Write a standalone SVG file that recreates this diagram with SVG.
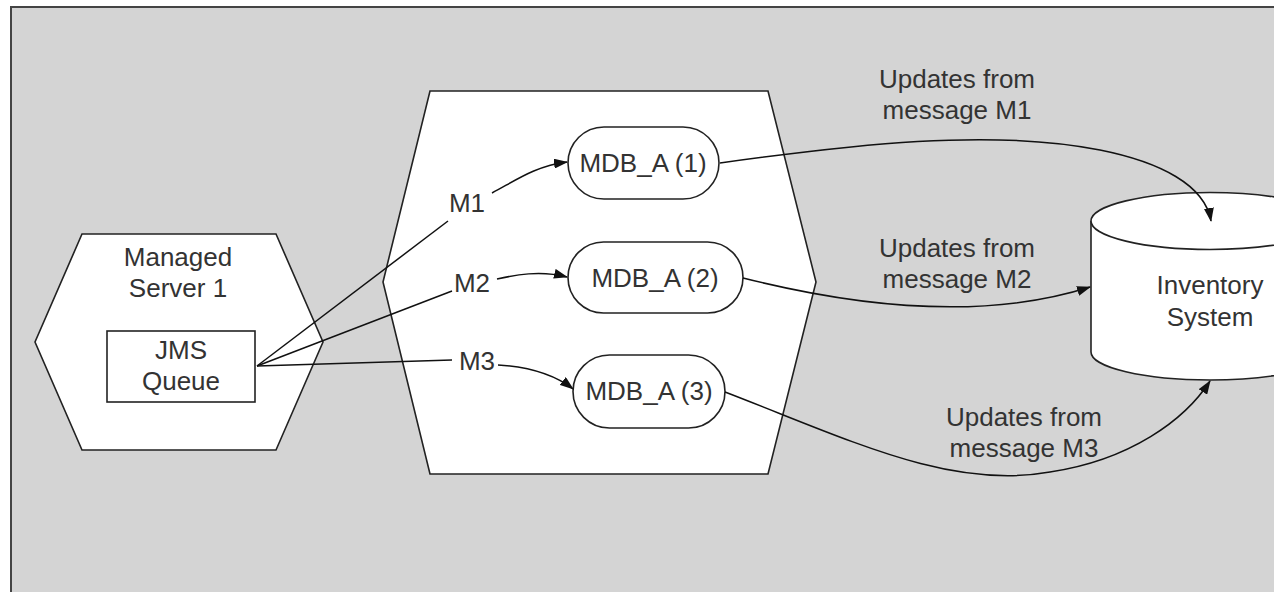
<svg xmlns="http://www.w3.org/2000/svg" width="1274" height="592" viewBox="0 0 1274 592">
  <defs>
    <marker id="arrow" markerUnits="userSpaceOnUse" markerWidth="14" markerHeight="10" refX="13" refY="5" orient="auto">
      <path d="M0,0 L14,5 L0,10 Z" fill="#111"/>
    </marker>
    <style>
      .shape { fill: #ffffff; stroke: #222; stroke-width: 1.6; }
      .txt { font-family: "Liberation Sans", Arial, sans-serif; font-size: 26px; fill: #333; text-anchor: middle; }
      .conn { fill: none; stroke: #111; stroke-width: 1.5; }
    </style>
  </defs>

  <rect x="0" y="0" width="1274" height="592" fill="#ffffff"/>
  <rect id="panel" x="11" y="7" width="1280" height="600" fill="#d4d4d4" stroke="#444" stroke-width="2"/>

  <g id="managed-server">
    <polygon class="shape" points="82,234 276,234 323,342 276,450 82,450 35,342"/>
    <text class="txt" x="178" y="266">Managed</text>
    <text class="txt" x="178" y="297">Server 1</text>
  </g>

  <g id="jms-queue">
    <rect class="shape" x="107" y="331" width="148" height="71"/>
    <text class="txt" x="181" y="359">JMS</text>
    <text class="txt" x="181" y="390">Queue</text>
  </g>

  <g id="server-2">
    <polygon class="shape" points="430,91 768,91 816,282 768,474 430,474 383,282"/>
  </g>

  <g id="mdb1">
    <rect class="shape" x="568" y="127" width="151" height="72" rx="36" ry="36"/>
    <text class="txt" x="643" y="172">MDB_A (1)</text>
  </g>
  <g id="mdb2">
    <rect class="shape" x="568" y="242" width="175" height="71" rx="35.5" ry="35.5"/>
    <text class="txt" x="655" y="287">MDB_A (2)</text>
  </g>
  <g id="mdb3">
    <rect class="shape" x="573" y="355" width="152" height="73" rx="36.5" ry="36.5"/>
    <text class="txt" x="649" y="400">MDB_A (3)</text>
  </g>

  <g id="inventory">
    <path class="shape" d="M1091,221 L1091,352 A119,28 0 0 0 1329,352 L1329,221"/>
    <ellipse class="shape" cx="1210" cy="221" rx="119" ry="28.5"/>
    <text class="txt" x="1210" y="294">Inventory</text>
    <text class="txt" x="1210" y="326">System</text>
  </g>

  <g id="connectors">
    <path class="conn" d="M257,366 L448,221"/>
    <path class="conn" d="M492,193 C515,181 535,166 567,162" marker-end="url(#arrow)"/>
    <path class="conn" d="M257,366 L452,291"/>
    <path class="conn" d="M497,279 C515,275 540,270 567,277" marker-end="url(#arrow)"/>
    <path class="conn" d="M257,366 L452,360"/>
    <path class="conn" d="M498,365 C530,367 555,375 573,389" marker-end="url(#arrow)"/>
    <path class="conn" d="M720,163 C850,145 990,128 1100,150 C1160,162 1205,185 1211,221" marker-end="url(#arrow)"/>
    <path class="conn" d="M743,278 C850,305 980,322 1090,287" marker-end="url(#arrow)"/>
    <path class="conn" d="M725,392 C850,440 950,490 1050,472 C1130,460 1185,420 1210,381" marker-end="url(#arrow)"/>
  </g>

  <g id="labels">
    <text class="txt" x="467" y="212">M1</text>
    <text class="txt" x="472" y="292">M2</text>
    <text class="txt" x="477" y="370">M3</text>
    <text class="txt" x="957" y="88">Updates from</text>
    <text class="txt" x="957" y="119">message M1</text>
    <text class="txt" x="957" y="257">Updates from</text>
    <text class="txt" x="957" y="288">message M2</text>
    <text class="txt" x="1024" y="426">Updates from</text>
    <text class="txt" x="1024" y="457">message M3</text>
  </g>
</svg>
